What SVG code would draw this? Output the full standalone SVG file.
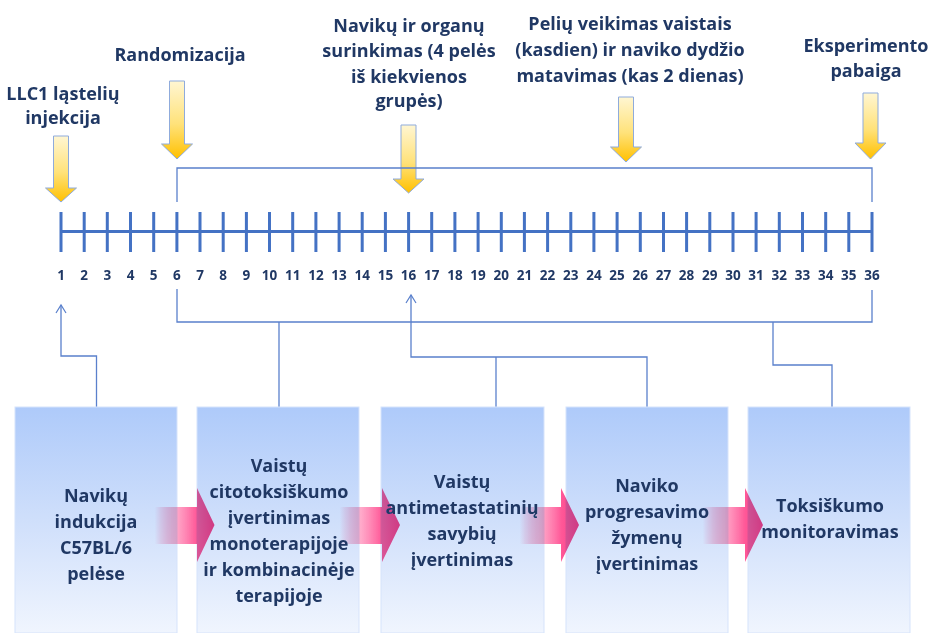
<svg xmlns="http://www.w3.org/2000/svg" width="931" height="633" viewBox="0 0 931 633">
<defs>
<linearGradient id="boxg" x1="0" y1="0" x2="0" y2="1">
<stop offset="0" stop-color="#AECAFA"/>
<stop offset="0.5" stop-color="#CFDFFB"/>
<stop offset="1" stop-color="#F0F5FE"/>
</linearGradient>
<linearGradient id="yel" x1="0" y1="0" x2="0" y2="1">
<stop offset="0" stop-color="#FFF6D2"/>
<stop offset="0.55" stop-color="#FFE27A"/>
<stop offset="1" stop-color="#FFC000"/>
</linearGradient>
<linearGradient id="pink" x1="0" y1="0" x2="1" y2="0">
<stop offset="0" stop-color="#FF5C98" stop-opacity="0"/>
<stop offset="0.35" stop-color="#FF8DB8" stop-opacity="0.75"/>
<stop offset="0.7" stop-color="#FF4F92" stop-opacity="0.95"/>
<stop offset="1" stop-color="#F5307C" stop-opacity="0.95"/>
</linearGradient>
<marker id="open" markerWidth="12" markerHeight="12" refX="10" refY="6" orient="auto" markerUnits="userSpaceOnUse" viewBox="0 0 12 12">
<path d="M2,1 L10,6 L2,11" fill="none" stroke="#5A80CC" stroke-width="1.2"/>
</marker>
</defs>
<style>
.t{font-family:"Open Sans","Liberation Sans",Arial,sans-serif;font-weight:700;font-size:18px;fill:#203864;text-anchor:middle}
.n{font-family:"Open Sans","Liberation Sans",Arial,sans-serif;font-weight:700;font-size:13.5px;fill:#203864;text-anchor:middle}
.box{fill:url(#boxg);stroke:#D6E3FB;stroke-width:1}
.ya{fill:url(#yel);stroke:#8FABDC;stroke-width:1}
.pa{fill:url(#pink);mix-blend-mode:darken}
.c{fill:none;stroke:#5A80CC;stroke-width:1.3}
.tl{fill:none;stroke:#4472C4;stroke-width:3}
</style>
<rect width="931" height="633" fill="#FFFFFF"/>

<g id="label-llc1">
<text class="t" x="63" y="99.5">LLC1 ląstelių</text>
<text class="t" x="63" y="124">injekcija</text>
<path class="ya" d="M53.5,136 H68.5 V188 H76.5 L61,202 L45.5,188 H53.5 Z"/>
</g>
<g id="label-randomizacija">
<text class="t" x="180" y="61">Randomizacija</text>
<path class="ya" d="M169.5,81 H184.5 V144 H192.5 L177,159 L161.5,144 H169.5 Z"/>
</g>
<g id="label-surinkimas">
<text class="t" x="409" y="31.5">Navikų ir organų</text>
<text class="t" x="409" y="57">surinkimas (4 pelės</text>
<text class="t" x="409" y="82.5">iš kiekvienos</text>
<text class="t" x="409" y="107">grupės)</text>
<path class="ya" d="M401,125 H416 V179 H424 L408.6,193 L393,179 H401 Z"/>
</g>
<g id="label-veikimas">
<text class="t" x="630" y="30">Pelių veikimas vaistais</text>
<text class="t" x="630" y="56">(kasdien) ir naviko dydžio</text>
<text class="t" x="630" y="81.5">matavimas (kas 2 dienas)</text>
<path class="ya" d="M618.5,97 H633.5 V147 H641.5 L626,162 L610.5,147 H618.5 Z"/>
</g>
<g id="label-pabaiga">
<text class="t" x="866" y="51.5">Eksperimento</text>
<text class="t" x="866" y="77">pabaiga</text>
<path class="ya" d="M863,93 H878 V143 H886 L870.5,159 L855,143 H863 Z"/>
</g>

<g id="timeline">
<path class="tl" d="M61,231.5 H872" stroke-width="3.5"/>
<path class="tl" d="M61,212V252M84.2,212V252M107.3,212V252M130.5,212V252M153.7,212V252M176.9,212V252M200,212V252M223.2,212V252M246.4,212V252M269.5,212V252M292.7,212V252M315.9,212V252M339.1,212V252M362.2,212V252M385.4,212V252M408.6,212V252M431.7,212V252M454.9,212V252M478.1,212V252M501.3,212V252M524.4,212V252M547.6,212V252M570.8,212V252M593.9,212V252M617.1,212V252M640.3,212V252M663.5,212V252M686.6,212V252M709.8,212V252M733,212V252M756.1,212V252M779.3,212V252M802.5,212V252M825.7,212V252M848.8,212V252M872,212V252"/>
<g class="n">
<text x="61" y="280">1</text><text x="84.2" y="280">2</text><text x="107.3" y="280">3</text><text x="130.5" y="280">4</text><text x="153.7" y="280">5</text><text x="176.9" y="280">6</text><text x="200" y="280">7</text><text x="223.2" y="280">8</text><text x="246.4" y="280">9</text><text x="269.5" y="280">10</text><text x="292.7" y="280">11</text><text x="315.9" y="280">12</text><text x="339.1" y="280">13</text><text x="362.2" y="280">14</text><text x="385.4" y="280">15</text><text x="408.6" y="280">16</text><text x="431.7" y="280">17</text><text x="454.9" y="280">18</text><text x="478.1" y="280">19</text><text x="501.3" y="280">20</text><text x="524.4" y="280">21</text><text x="547.6" y="280">22</text><text x="570.8" y="280">23</text><text x="593.9" y="280">24</text><text x="617.1" y="280">25</text><text x="640.3" y="280">26</text><text x="663.5" y="280">27</text><text x="686.6" y="280">28</text><text x="709.8" y="280">29</text><text x="733" y="280">30</text><text x="756.1" y="280">31</text><text x="779.3" y="280">32</text><text x="802.5" y="280">33</text><text x="825.7" y="280">34</text><text x="848.8" y="280">35</text><text x="872" y="280">36</text>
</g>
</g>

<g id="connectors">
<path class="c" d="M177,202 V168 H872 V202"/>
<path class="c" d="M177,289 V322 H872 V290"/>
<path class="c" d="M96.5,407 V356 H61 V305" marker-end="url(#open)"/>
<path class="c" d="M279,322 V407"/>
<path class="c" d="M647,407 V357 H411 V295" marker-end="url(#open)"/>
<path class="c" d="M496,357 V407"/>
<path class="c" d="M773,322 V365 H832 V407"/>
</g>

<g id="box1">
<rect class="box" x="15" y="407" width="162" height="226"/>
<text class="t" x="96" y="502">Navikų</text>
<text class="t" x="96" y="528">indukcija</text>
<text class="t" x="96" y="554">C57BL/6</text>
<text class="t" x="96" y="580">pelėse</text>
</g>
<g id="box2">
<rect class="box" x="197" y="407" width="162" height="226"/>
<text class="t" x="279" y="472">Vaistų</text>
<text class="t" x="279" y="498">citotoksiškumo</text>
<text class="t" x="279" y="524">įvertinimas</text>
<text class="t" x="279" y="550">monoterapijoje</text>
<text class="t" x="279" y="576">ir kombinacinėje</text>
<text class="t" x="279" y="602">terapijoje</text>
</g>
<g id="box3">
<rect class="box" x="381" y="407" width="163" height="226"/>
<text class="t" x="462" y="487.5">Vaistų</text>
<text class="t" x="462" y="513.5">antimetastatinių</text>
<text class="t" x="462" y="539.5">savybių</text>
<text class="t" x="462" y="565.5">įvertinimas</text>
</g>
<g id="box4">
<rect class="box" x="566" y="407" width="162" height="226"/>
<text class="t" x="647" y="492">Naviko</text>
<text class="t" x="647" y="518">progresavimo</text>
<text class="t" x="647" y="544">žymenų</text>
<text class="t" x="647" y="570">įvertinimas</text>
</g>
<g id="box5">
<rect class="box" x="748" y="407" width="162" height="226"/>
<text class="t" x="830" y="512">Toksiškumo</text>
<text class="t" x="830" y="538">monitoravimas</text>
</g>

<g id="flow-arrows">
<path class="pa" d="M155,507 H197 V488 L214.5,525 L197,562 V544 H155 Z"/>
<path class="pa" d="M340,507 H382 V488 L400,525 L382,562 V544 H340 Z"/>
<path class="pa" d="M520,507 H561 V488 L579,525 L561,562 V544 H520 Z"/>
<path class="pa" d="M703,507 H745 V488 L763,525 L745,562 V544 H703 Z"/>
</g>
</svg>
